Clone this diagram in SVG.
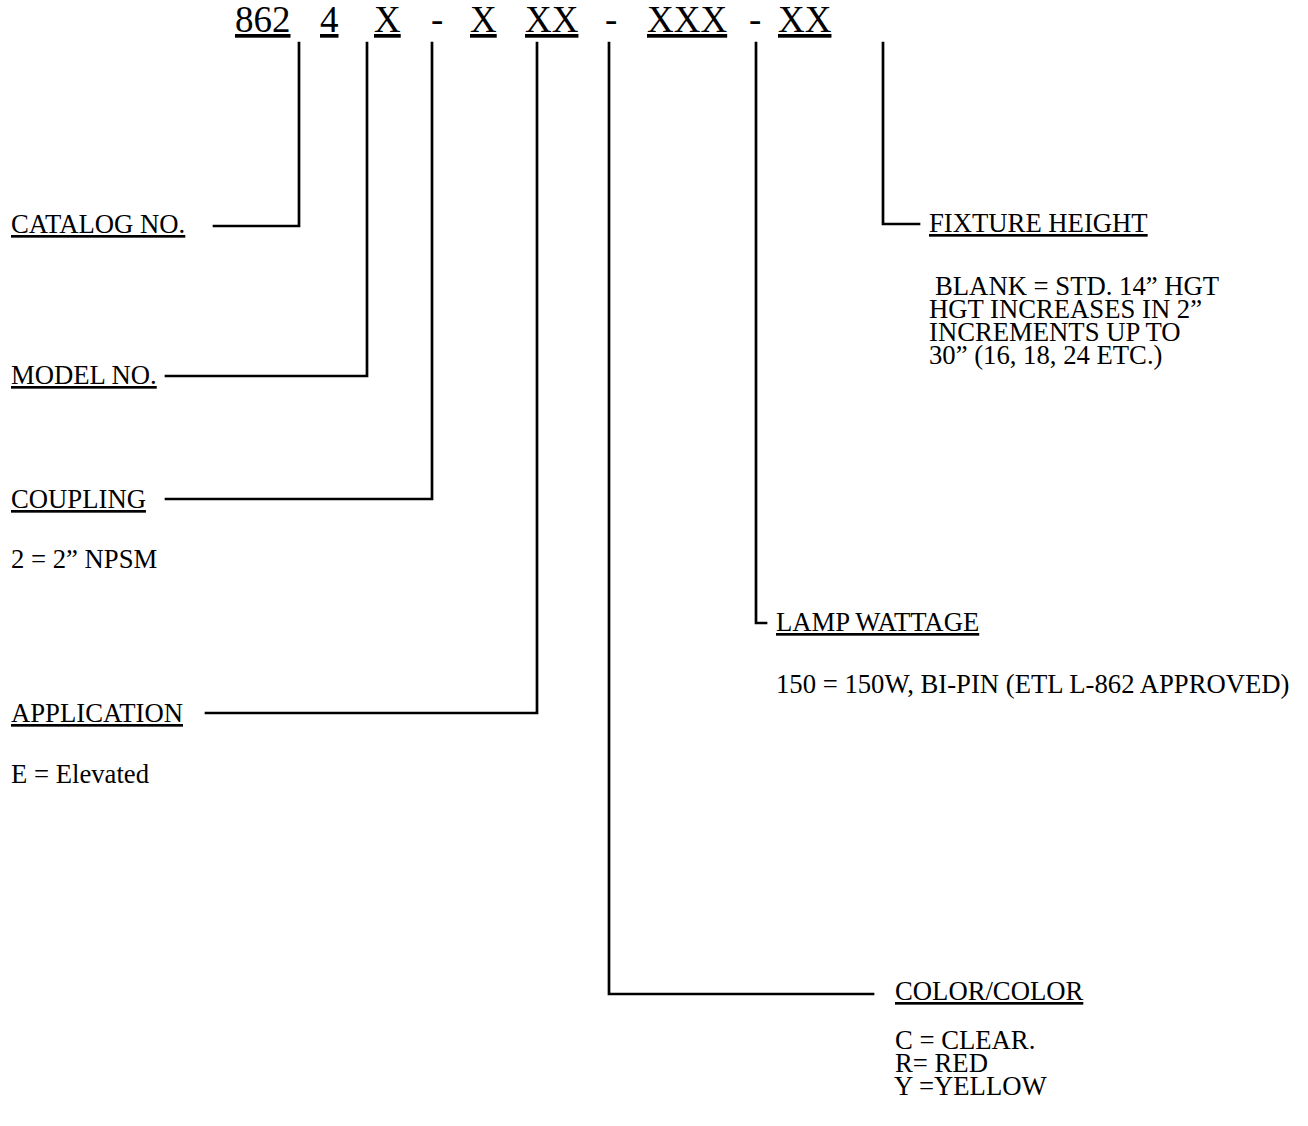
<svg xmlns="http://www.w3.org/2000/svg" width="1308" height="1126" viewBox="0 0 1308 1126">
<style>
text { font-family: "Liberation Serif", "Times New Roman", serif; fill: #000; }
.code { font-size: 37px; }
.u { text-decoration: underline; }
.lbl { font-size: 26.7px; }
.conn { stroke: #000; stroke-width: 2.7; fill: none; stroke-linecap: square; stroke-linejoin: miter; }
</style>
<rect width="1308" height="1126" fill="#fff"/>
<g id="code">
  <text class="code u" x="235" y="32">862</text>
  <text class="code u" x="320" y="32">4</text>
  <text class="code u" x="374" y="32">X</text>
  <text class="code" x="431" y="32">-</text>
  <text class="code u" x="470" y="32">X</text>
  <text class="code u" x="525" y="32">XX</text>
  <text class="code" x="605" y="32">-</text>
  <text class="code u" x="647" y="32">XXX</text>
  <text class="code" x="749" y="32">-</text>
  <text class="code u" x="778" y="32">XX</text>
</g>
<g id="connectors">
  <path class="conn" d="M299,43 V226 H214"/>
  <path class="conn" d="M367,43 V376 H166"/>
  <path class="conn" d="M432,43 V499 H166"/>
  <path class="conn" d="M537,43 V713 H206"/>
  <path class="conn" d="M609,43 V994 H873"/>
  <path class="conn" d="M756,43 V623 H766"/>
  <path class="conn" d="M883,43 V224 H919"/>
</g>
<g id="catalog">
  <text class="lbl u" x="11" y="233">CATALOG NO.</text>
</g>
<g id="model">
  <text class="lbl u" x="11" y="384">MODEL NO.</text>
</g>
<g id="coupling">
  <text class="lbl u" x="11" y="508">COUPLING</text>
  <text class="lbl" x="11" y="568">2 = 2” NPSM</text>
</g>
<g id="application">
  <text class="lbl u" x="11" y="722">APPLICATION</text>
  <text class="lbl" x="11" y="783">E = Elevated</text>
</g>
<g id="color">
  <text class="lbl u" x="895" y="1000">COLOR/COLOR</text>
  <text class="lbl" x="895" y="1049">C = CLEAR.</text>
  <text class="lbl" x="895" y="1072">R= RED</text>
  <text class="lbl" x="894" y="1095">Y =YELLOW</text>
</g>
<g id="lamp">
  <text class="lbl u" x="776" y="631">LAMP WATTAGE</text>
  <text class="lbl" x="776" y="693">150 = 150W, BI-PIN (ETL L-862 APPROVED)</text>
</g>
<g id="fixture">
  <text class="lbl u" x="929" y="232">FIXTURE HEIGHT</text>
  <text class="lbl" x="935" y="295">BLANK = STD. 14” HGT</text>
  <text class="lbl" x="929" y="318">HGT INCREASES IN 2”</text>
  <text class="lbl" x="929" y="341">INCREMENTS UP TO</text>
  <text class="lbl" x="929" y="364">30” (16, 18, 24 ETC.)</text>
</g>
</svg>
